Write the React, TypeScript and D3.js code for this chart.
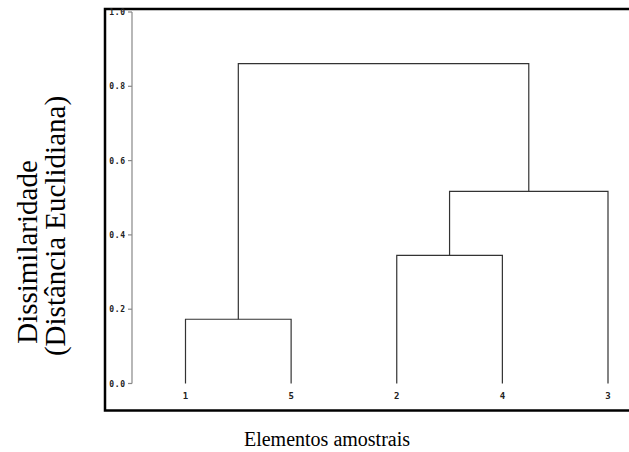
import React from "react";
import * as d3 from "d3";

const leafOrder: string[] = ["1", "5", "2", "4", "3"];
// merges: [left, right, height]
const mergeLeft: string[] = ["1", "2", "C2", "C1"];
const mergeRight: string[] = ["5", "4", "3", "C3"];
const mergeHeight: number[] = [0.173, 0.345, 0.517, 0.861];
const mergeName: string[] = ["C1", "C2", "C3", "C4"];
const yTicks: number[] = [0.0, 0.2, 0.4, 0.6, 0.8, 1.0];

const W = 629;
const H = 452;

export default function App() {
  const x = d3.scalePoint<string>().domain(leafOrder).range([185.5, 608]);
  const y = d3.scaleLinear().domain([0, 1]).range([383.5, 12]);

  const pos: Record<string, { x: number; h: number }> = {};
  leafOrder.forEach((l) => (pos[l] = { x: x(l) as number, h: 0 }));
  const paths: string[] = [];
  mergeName.forEach((n, i) => {
    const a = pos[mergeLeft[i]];
    const b = pos[mergeRight[i]];
    const h = mergeHeight[i];
    paths.push(`M${a.x},${y(a.h)}V${y(h)}H${b.x}V${y(b.h)}`);
    pos[n] = { x: (a.x + b.x) / 2, h };
  });

  const tickFont = "'DejaVu Sans Mono', monospace";
  const serif = "'Liberation Serif', 'Times New Roman', serif";

  return (
    <svg
      width={W}
      height={H}
      style={{ position: "absolute", left: 0, top: 0, background: "#fff" }}
    >
      <rect x={0} y={0} width={W} height={H} fill="#fff" />
      <path d="M630,9H105V410.5H630" fill="none" stroke="#000" strokeWidth={2.5} />
      {/* y axis */}
      <line x1={132} x2={132} y1={y(1)} y2={y(0)} stroke="#888" strokeWidth={1.2} />
      {yTicks.map((t) => (
        <g key={t}>
          <line x1={128} x2={132} y1={y(t)} y2={y(t)} stroke="#888" strokeWidth={1.2} />
          <text
            x={126}
            y={y(t) + 3}
            textAnchor="end"
            fontFamily={tickFont}
            fontWeight="bold"
            fontSize={8}
            letterSpacing={0.8}
            fill="#222"
          >
            {t.toFixed(1)}
          </text>
        </g>
      ))}
      {/* dendrogram */}
      {paths.map((d, i) => (
        <path key={i} d={d} fill="none" stroke="#333" strokeWidth={1.2} />
      ))}
      {leafOrder.map((l) => (
        <text
          key={l}
          x={x(l) as number}
          y={399}
          textAnchor="middle"
          fontFamily={tickFont}
          fontWeight="bold"
          fontSize={9}
          fill="#222"
        >
          {l}
        </text>
      ))}
      {/* axis titles */}
      <text x={327} y={446} textAnchor="middle" fontFamily={serif} fontSize={20} fill="#000">
        Elementos amostrais
      </text>
      <text
        transform="translate(37,252) rotate(-90)"
        textAnchor="middle"
        fontFamily={serif}
        fontSize={29}
        fill="#000"
      >
        Dissimilaridade
      </text>
      <text
        transform="translate(65,226) rotate(-90)"
        textAnchor="middle"
        fontFamily={serif}
        fontSize={29}
        fill="#000"
      >
        (Distância Euclidiana)
      </text>
    </svg>
  );
}
